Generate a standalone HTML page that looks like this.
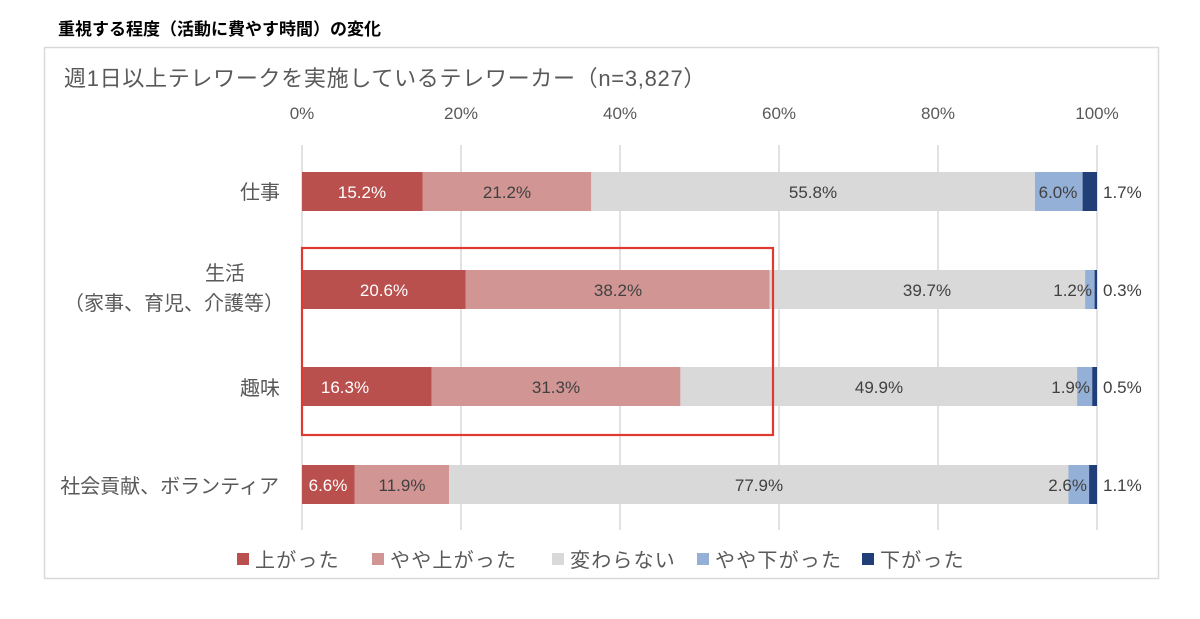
<!DOCTYPE html>
<html><head><meta charset="utf-8"><style>
body{margin:0;background:#fff;}
svg{display:block;font-family:"Liberation Sans","Noto Sans CJK JP",sans-serif;}
</style></head><body>
<svg width="1200" height="619" viewBox="0 0 1200 619" xmlns="http://www.w3.org/2000/svg">
<text x="58" y="35" font-size="17" font-weight="bold" fill="#000">重視する程度（活動に費やす時間）の変化</text>
<rect x="44.5" y="47.5" width="1114" height="531" fill="#fff" stroke="#d9d9d9" stroke-width="1.5"/>
<text x="64" y="86" font-size="22" letter-spacing="0.7" fill="#595959">週1日以上テレワークを実施しているテレワーカー（n=3,827）</text>
<g font-size="17" fill="#595959" text-anchor="middle">
<text x="302" y="119">0%</text><text x="461" y="119">20%</text><text x="620" y="119">40%</text>
<text x="779" y="119">60%</text><text x="938" y="119">80%</text><text x="1097" y="119">100%</text>
</g>
<g stroke="#d9d9d9" stroke-width="1.5">
<line x1="302" y1="145" x2="302" y2="530"/><line x1="461" y1="145" x2="461" y2="530"/>
<line x1="620" y1="145" x2="620" y2="530"/><line x1="779" y1="145" x2="779" y2="530"/>
<line x1="938" y1="145" x2="938" y2="530"/><line x1="1097" y1="145" x2="1097" y2="530"/>
</g>
<g>
<rect x="302" y="172" width="120.8" height="39" fill="#b9504d"/>
<rect x="422.8" y="172" width="168.5" height="39" fill="#d19694"/>
<rect x="591.3" y="172" width="443.6" height="39" fill="#d9d9d9"/>
<rect x="1034.9" y="172" width="47.7" height="39" fill="#95b0d6"/>
<rect x="1082.6" y="172" width="14.4" height="39" fill="#203f78"/>

<rect x="302" y="270" width="163.8" height="39" fill="#b9504d"/>
<rect x="465.8" y="270" width="303.7" height="39" fill="#d19694"/>
<rect x="769.5" y="270" width="315.6" height="39" fill="#d9d9d9"/>
<rect x="1085.1" y="270" width="9.5" height="39" fill="#95b0d6"/>
<rect x="1094.6" y="270" width="2.4" height="39" fill="#203f78"/>

<rect x="302" y="367" width="129.6" height="39" fill="#b9504d"/>
<rect x="431.6" y="367" width="248.8" height="39" fill="#d19694"/>
<rect x="680.4" y="367" width="396.7" height="39" fill="#d9d9d9"/>
<rect x="1077.1" y="367" width="15.1" height="39" fill="#95b0d6"/>
<rect x="1092.2" y="367" width="4.8" height="39" fill="#203f78"/>

<rect x="302" y="465" width="52.5" height="39" fill="#b9504d"/>
<rect x="354.5" y="465" width="94.6" height="39" fill="#d19694"/>
<rect x="449.1" y="465" width="619.3" height="39" fill="#d9d9d9"/>
<rect x="1068.4" y="465" width="20.7" height="39" fill="#95b0d6"/>
<rect x="1089.1" y="465" width="7.9" height="39" fill="#203f78"/>
</g>
<g font-size="17" text-anchor="middle" fill="#404040">
<text x="362" y="198" fill="#fff">15.2%</text><text x="507" y="198">21.2%</text><text x="813" y="198">55.8%</text><text x="1058" y="198">6.0%</text>
<text x="384" y="296" fill="#fff">20.6%</text><text x="618" y="296">38.2%</text><text x="927" y="296">39.7%</text>
<text x="345" y="393" fill="#fff">16.3%</text><text x="556" y="393">31.3%</text><text x="879" y="393">49.9%</text>
<text x="328" y="491" fill="#fff">6.6%</text><text x="402" y="491">11.9%</text><text x="759" y="491">77.9%</text>
</g>
<g font-size="17" text-anchor="end" fill="#404040">
<text x="1092" y="296">1.2%</text><text x="1090" y="393">1.9%</text><text x="1087" y="491">2.6%</text>
</g>
<g font-size="17" fill="#404040">
<text x="1103" y="198">1.7%</text><text x="1103" y="296">0.3%</text><text x="1103" y="393">0.5%</text><text x="1103" y="491">1.1%</text>
</g>
<g font-size="20" fill="#595959" text-anchor="end">
<text x="280" y="199">仕事</text>
<text x="245" y="280">生活</text>
<text x="284" y="310">（家事、育児、介護等）</text>
<text x="280" y="395">趣味</text>
<text x="279" y="493">社会貢献、ボランティア</text>
</g>
<rect x="302" y="248" width="471" height="187" fill="none" stroke="#e03a30" stroke-width="2.2"/>
<g font-size="20" letter-spacing="1.2" fill="#595959">
<rect x="237" y="553" width="12" height="12" fill="#b9504d"/><text x="255" y="567">上がった</text>
<rect x="372" y="553" width="12" height="12" fill="#d19694"/><text x="390" y="567">やや上がった</text>
<rect x="552" y="553" width="12" height="12" fill="#d9d9d9"/><text x="570" y="567">変わらない</text>
<rect x="697" y="553" width="12" height="12" fill="#95b0d6"/><text x="715" y="567">やや下がった</text>
<rect x="862" y="553" width="12" height="12" fill="#203f78"/><text x="880" y="567">下がった</text>
</g>
</svg>
</body></html>
